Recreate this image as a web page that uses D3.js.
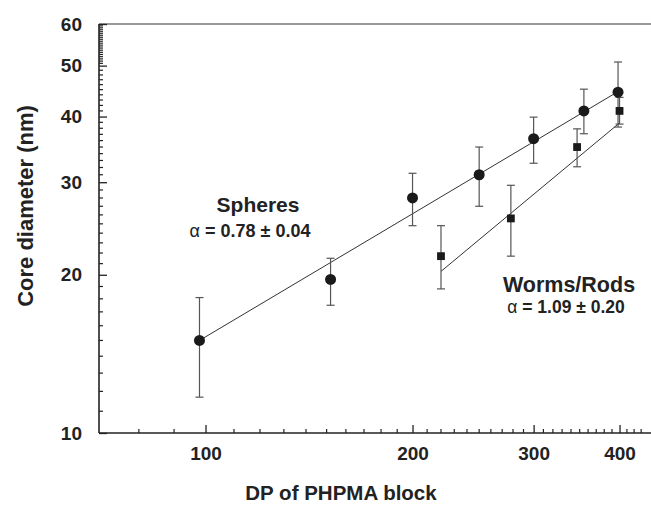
<!DOCTYPE html>
<html>
<head>
<meta charset="utf-8">
<script src="https://cdn.jsdelivr.net/npm/d3@7/dist/d3.min.js"></script>
<style>
  html, body { margin: 0; padding: 0; background: #fff; }
  svg { display: block; }
  text { font-family: "Liberation Sans", Arial, Helvetica, sans-serif; fill: #222; }
</style>
</head>
<body>
<svg id="chart" width="651" height="508"></svg>
<script>
// ---- data ----
const sphereDP    = [98, 152, 200, 250, 300, 355, 398];
const sphereD     = [15.0, 19.6, 28.0, 31.0, 36.3, 41.0, 44.5];
const sphereErrLo = [11.7, 17.5, 24.8, 27.0, 32.6, 37.1, 38.2];
const sphereErrHi = [18.1, 21.5, 31.2, 35.0, 39.9, 45.1, 50.8];

const wormDP      = [220, 278, 347, 400];
const wormD       = [21.7, 25.6, 35.0, 41.0];
const wormErrLo   = [18.8, 21.7, 32.1, 38.7];
const wormErrHi   = [24.8, 29.6, 37.9, 43.5];

const sphereFitDP = [98, 400];
const sphereFitD  = [15.0, 44.8];
const wormFitDP   = [220, 400];
const wormFitD    = [20.3, 38.9];

const xTickValues = [100, 200, 300, 400];
const yTickValues = [10, 20, 30, 40, 50, 60];
const xMinorTicks = [80, 90, 110, 120, 130, 140, 150, 160, 170, 180, 190,
                     210, 220, 230, 240, 250, 260, 270, 280, 290,
                     310, 320, 330, 340, 350, 360, 370, 380, 390,
                     410, 420, 430];
const yMinorTicks = [11, 12, 13, 14, 15, 16, 17, 18, 19,
                     21, 22, 23, 24, 25, 26, 27, 28, 29,
                     31, 32, 33, 34, 35, 36, 37, 38, 39,
                     41, 42, 43, 44, 45, 46, 47, 48, 49,
                     50.5, 51, 51.5, 52, 52.5, 53, 53.5, 54, 54.5, 55, 55.5,
                     56, 56.5, 57, 57.5, 58, 58.5, 59, 59.5];

const xLabel = "DP of PHPMA block";
const yLabel = "Core diameter (nm)";

// ---- layout ----
const mL = 99, mR = 651, mT = 24, mB = 433;
const svg = d3.select("#chart");

const x = d3.scaleLog().domain([70, 440]).range([mL, mR - 3]);
const y = d3.scaleLog().domain([10, 60]).range([mB, mT]);

// top frame line (gray)
svg.append("line")
  .attr("x1", mL).attr("x2", mR).attr("y1", mT).attr("y2", mT)
  .attr("stroke", "#777").attr("stroke-width", 1.6);

// x axis
const xAxis = d3.axisBottom(x).tickValues(xTickValues).tickFormat(d3.format("d"))
  .tickSizeInner(-8).tickSizeOuter(0).tickPadding(14);
const gx = svg.append("g").attr("transform", `translate(0,${mB})`).call(xAxis);
gx.select(".domain").attr("d", `M${mL},0H${mR}`).attr("stroke", "#222").attr("stroke-width", 1.6);
gx.selectAll(".tick line").attr("stroke", "#222").attr("stroke-width", 1.3);
gx.selectAll(".tick text").attr("font-size", 19).attr("font-weight", "bold")
  .attr("font-family", "'Liberation Sans', Arial, sans-serif").attr("fill", "#222");
gx.selectAll(".minor").data(xMinorTicks).enter().append("line")
  .attr("class", "minor")
  .attr("x1", d => x(d)).attr("x2", d => x(d)).attr("y1", 0).attr("y2", -4)
  .attr("stroke", "#222").attr("stroke-width", 1.2);

// y axis
const yAxis = d3.axisLeft(y).tickValues(yTickValues).tickFormat(d3.format("d"))
  .tickSizeInner(-8).tickSizeOuter(0).tickPadding(17);
const gy = svg.append("g").attr("transform", `translate(${mL},0)`).call(yAxis);
gy.select(".domain").attr("d", `M0,${mT}V${mB}`).attr("stroke", "#222").attr("stroke-width", 1.6);
gy.selectAll(".tick line").attr("stroke", "#222").attr("stroke-width", 1.3);
gy.selectAll(".tick text").attr("font-size", 19).attr("font-weight", "bold")
  .attr("font-family", "'Liberation Sans', Arial, sans-serif").attr("fill", "#222");
gy.selectAll(".minor").data(yMinorTicks).enter().append("line")
  .attr("class", "minor")
  .attr("x1", 0).attr("x2", 4).attr("y1", d => y(d)).attr("y2", d => y(d))
  .attr("stroke", "#222").attr("stroke-width", 1.2);

// axis titles
svg.append("text").attr("x", 341).attr("y", 500).attr("text-anchor", "middle")
  .attr("font-size", 20.5).attr("font-weight", "bold").text(xLabel);
svg.append("text").attr("transform", "translate(33,206) rotate(-90)").attr("text-anchor", "middle")
  .attr("font-size", 22).attr("font-weight", "bold").text(yLabel);

// fit lines
const line = d3.line().x(d => x(d[0])).y(d => y(d[1]));
svg.append("path").datum(d3.zip(sphereFitDP, sphereFitD)).attr("d", line)
  .attr("fill", "none").attr("stroke", "#333").attr("stroke-width", 1);
svg.append("path").datum(d3.zip(wormFitDP, wormFitD)).attr("d", line)
  .attr("fill", "none").attr("stroke", "#333").attr("stroke-width", 1);

// error bars
function errorBars(dp, lo, hi) {
  const data = d3.zip(dp, lo, hi);
  const g = svg.append("g").attr("stroke", "#555").attr("stroke-width", 1.2).attr("fill", "none");
  g.selectAll(".v").data(data).enter().append("line")
    .attr("x1", d => x(d[0])).attr("x2", d => x(d[0]))
    .attr("y1", d => y(d[1])).attr("y2", d => y(d[2]));
  g.selectAll(".t").data(data).enter().append("line")
    .attr("x1", d => x(d[0]) - 4).attr("x2", d => x(d[0]) + 4)
    .attr("y1", d => y(d[2])).attr("y2", d => y(d[2]));
  g.selectAll(".b").data(data).enter().append("line")
    .attr("x1", d => x(d[0]) - 4).attr("x2", d => x(d[0]) + 4)
    .attr("y1", d => y(d[1])).attr("y2", d => y(d[1]));
}
errorBars(sphereDP, sphereErrLo, sphereErrHi);
errorBars(wormDP, wormErrLo, wormErrHi);

// markers
svg.append("g").selectAll("circle").data(d3.zip(sphereDP, sphereD)).enter().append("circle")
  .attr("cx", d => x(d[0])).attr("cy", d => y(d[1])).attr("r", 5.5).attr("fill", "#1a1a1a");
svg.append("g").selectAll("rect").data(d3.zip(wormDP, wormD)).enter().append("rect")
  .attr("x", d => x(d[0]) - 3.9).attr("y", d => y(d[1]) - 3.9)
  .attr("width", 7.8).attr("height", 7.8).attr("fill", "#1a1a1a");

// annotations
svg.append("text").attr("x", 258).attr("y", 212).attr("text-anchor", "middle")
  .attr("font-size", 21).attr("font-weight", "bold").text("Spheres");
const a1 = svg.append("text").attr("x", 250).attr("y", 237).attr("text-anchor", "middle")
  .attr("font-size", 18).attr("font-weight", "bold");
a1.append("tspan").attr("font-weight", "normal").text("α");
a1.append("tspan").text(" = 0.78 ± 0.04");

svg.append("text").attr("x", 569).attr("y", 292).attr("text-anchor", "middle")
  .attr("font-size", 21.5).attr("font-weight", "bold").text("Worms/Rods");
const a2 = svg.append("text").attr("x", 566).attr("y", 313).attr("text-anchor", "middle")
  .attr("font-size", 17.5).attr("font-weight", "bold");
a2.append("tspan").attr("font-weight", "normal").text("α");
a2.append("tspan").text(" = 1.09 ± 0.20");
</script>
</body>
</html>
